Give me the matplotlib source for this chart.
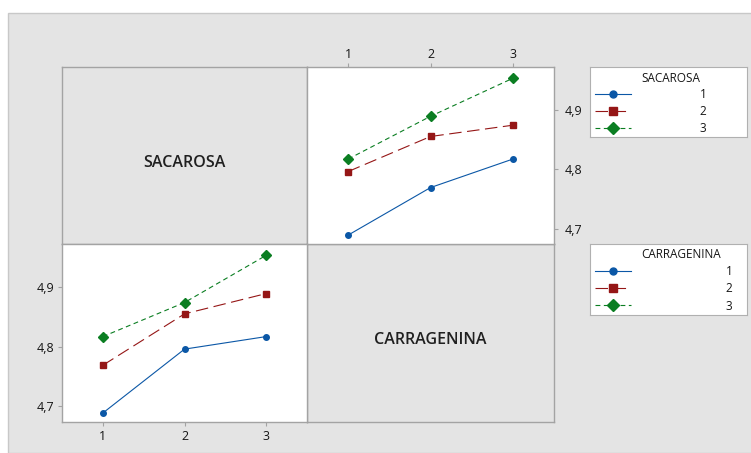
import numpy as np
import matplotlib
matplotlib.use("Agg")
import matplotlib.pyplot as plt
from matplotlib.ticker import FuncFormatter
from matplotlib.lines import Line2D

# Medias del grafico de interaccion (Minitab): filas = SACAROSA, columnas = CARRAGENINA
niveles = [1, 2, 3]
sacarosa_1 = [4.689, 4.769, 4.817]
sacarosa_2 = [4.796, 4.855, 4.874]
sacarosa_3 = [4.817, 4.889, 4.953]
ticks_y = [4.7, 4.8, 4.9]
etiquetas = ["1", "2", "3"]

medias = np.array([sacarosa_1, sacarosa_2, sacarosa_3])

plt.rcParams['font.family'] = ['Open Sans', 'DejaVu Sans']
plt.rcParams['lines.scale_dashes'] = False

W, H = 751, 453
def caja(x0, y0, x1, y1):
    # convierte pixeles (arriba-izquierda) a coordenadas de figura
    return [x0 / W, 1 - y1 / H, (x1 - x0) / W, (y1 - y0) / H]

gris = '#e4e4e4'
borde = '#a3a3a3'
texto = '#161616'
colores = ['#0b57a6', '#951616', '#0b7e22']
estilos = ['-', (0, (9, 4)), (0, (3.5, 2.5))]
marcadores = ['o', 's', 'D']
tam_marc = [4.0, 4.6, 5.0]

fig = plt.figure(figsize=(7.51, 4.53), dpi=100)
fig.add_artist(plt.Rectangle((8 / W, 0), 1, 1 - 13 / H, transform=fig.transFigure,
                             facecolor=gris, edgecolor='#c8c8c8', linewidth=1, zorder=-10))

formato = FuncFormatter(lambda v, p: f"{v:.1f}".replace('.', ','))

def preparar(ax, fondo):
    ax.set_facecolor(fondo)
    for s in ax.spines.values():
        s.set_color(borde)
        s.set_linewidth(1)
    ax.set_xlim(0.5, 3.5)
    ax.set_ylim(4.674, 4.972)
    ax.tick_params(direction='out', length=3, width=0.8, color=borde,
                   labelsize=9, labelcolor=texto)

# celdas diagonales con el nombre del factor
ax_sac = fig.add_axes(caja(62, 67, 307, 244))
ax_car = fig.add_axes(caja(307, 244, 554, 422))
for ax, nombre in [(ax_sac, "SACAROSA"), (ax_car, "CARRAGENINA")]:
    preparar(ax, gris)
    ax.set_xticks([])
    ax.set_yticks([])
    ax.text(0.5, 0.46, nombre, transform=ax.transAxes, ha='center', va='center',
            fontsize=11.5, fontweight='semibold', color='#202020')

# arriba derecha: x = CARRAGENINA, lineas = SACAROSA
ax1 = fig.add_axes(caja(307, 67, 554, 244))
preparar(ax1, 'white')
for i in range(3):
    ax1.plot(niveles, medias[i, :], color=colores[i], linestyle=estilos[i], linewidth=0.8,
             marker=marcadores[i], markersize=tam_marc[i])
ax1.xaxis.tick_top()
ax1.yaxis.tick_right()
ax1.set_xticks(niveles, etiquetas)
ax1.set_yticks(ticks_y)
ax1.yaxis.set_major_formatter(formato)
ax1.tick_params(axis='x', pad=1.5)
ax1.tick_params(axis='y', pad=5)

# abajo izquierda: x = SACAROSA, lineas = CARRAGENINA
ax2 = fig.add_axes(caja(62, 244, 307, 422))
preparar(ax2, 'white')
for j in range(3):
    ax2.plot(niveles, medias[:, j], color=colores[j], linestyle=estilos[j], linewidth=0.8,
             marker=marcadores[j], markersize=tam_marc[j])
ax2.set_xticks(niveles, etiquetas)
ax2.set_yticks(ticks_y)
ax2.yaxis.set_major_formatter(formato)
ax2.tick_params(axis='x', pad=3)
ax2.tick_params(axis='y', pad=2.5)

# leyendas
manijas = [Line2D([], [], color=colores[k], linestyle=estilos[k], linewidth=0.8,
                  marker=marcadores[k], markersize=tam_marc[k] + 1) for k in range(3)]

def leyenda(pos, titulo, pad):
    axl = fig.add_axes(caja(*pos))
    axl.set_facecolor('white')
    axl.set_xticks([])
    axl.set_yticks([])
    for s in axl.spines.values():
        s.set_color('#b0b0b0')
    axl.text(51 / (pos[2] - pos[0]), 1 - 11 / (pos[3] - pos[1]), titulo,
             transform=axl.transAxes, ha='left', va='center', fontsize=8.5, color=texto)
    axl.legend(manijas, etiquetas, loc='upper left', bbox_to_anchor=(0, 0.77),
               frameon=False, fontsize=8.5, handlelength=3.1, handletextpad=pad,
               labelspacing=0.36, borderpad=0.2, borderaxespad=0.2,
               labelcolor=texto)

leyenda((590, 67, 747, 137), "SACAROSA", 5.8)
leyenda((590, 244, 747, 315), "CARRAGENINA", 8.0)

plt.savefig("out.png", dpi=100)
